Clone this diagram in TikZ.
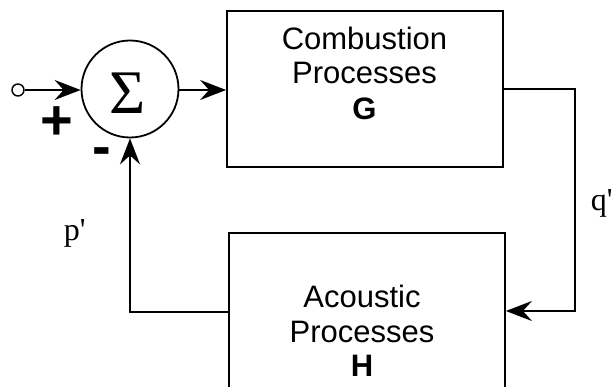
\documentclass[tikz,border=0pt]{standalone}
\usepackage{fontspec}
\setmainfont{Liberation Serif}
\newfontfamily\sansf{Liberation Sans}
\newfontfamily\seriff[Ligatures=ResetAll]{Liberation Serif}
\usetikzlibrary{arrows.meta}
\begin{document}
\begin{tikzpicture}[x=1pt,y=-1pt, line width=1.8pt,
  box/.style={draw, minimum width=276pt, inner sep=0pt},
  boxtxt/.style={font=\sansf\fontsize{31}{35}\selectfont, anchor=base, inner sep=0pt},
  boldtxt/.style={font=\sansf\bfseries\fontsize{31}{35}\selectfont, anchor=base, inner sep=0pt},
  signtxt/.style={font=\sansf\bfseries\fontsize{56}{60}\selectfont, inner sep=0pt},
  vartxt/.style={font=\seriff\fontsize{32}{36}\selectfont, anchor=base west, inner sep=0pt},
  arr/.style={-{Stealth[length=26pt,width=20pt,inset=9pt]}}]
\useasboundingbox (0,0) rectangle (611,387);
\clip (0,0) rectangle (611,387);
% blocks
\node[box, minimum height=156pt] (G) at (365,89) {};
\node[box, minimum height=200pt] (H) at (367,333) {};
\node[boxtxt] (g1) at (364.5,50) {Combustion};
\node[boxtxt] (g2) at (364.5,84) {Processes};
\node[boldtxt] (g3) at (364.5,120) {G};
\node[boxtxt] (h1) at (362,308) {Acoustic};
\node[boxtxt] (h2) at (362,343) {Processes};
\node[boldtxt] (h3) at (362,377) {H};
% summing junction
\node[draw, circle, minimum size=97pt, inner sep=0pt] (sum) at (130,89) {};
\node[font=\seriff\fontsize{62}{66}\selectfont, inner sep=0pt] (sig) at (127.5,93.5) {Σ};
\node[draw, circle, minimum size=12pt, inner sep=0pt, line width=1.4pt] (in) at (18,90) {};
\node[signtxt] (plus) at (57,123) {+};
\node[signtxt] (minus) at (102,157) {-};
\node[vartxt] (p) at (63,241) {p'};
\node[vartxt] (q) at (590,211) {q'};
% connectors
\coordinate (c1) at (575,89);
\coordinate (c2) at (575,311);
\coordinate (c3) at (130,312);
\draw[arr] (in.east) -- (sum.west |- in.east);
\draw[arr] (sum.east |- in.east) -- (G.west |- in.east);
\draw[arr] (G.east |- c1) -- (c1) -- (c2) -- (H.east |- c2);
\draw[arr] (H.west |- c3) -- (c3) -- (sum.south);
\end{tikzpicture}
\end{document}
